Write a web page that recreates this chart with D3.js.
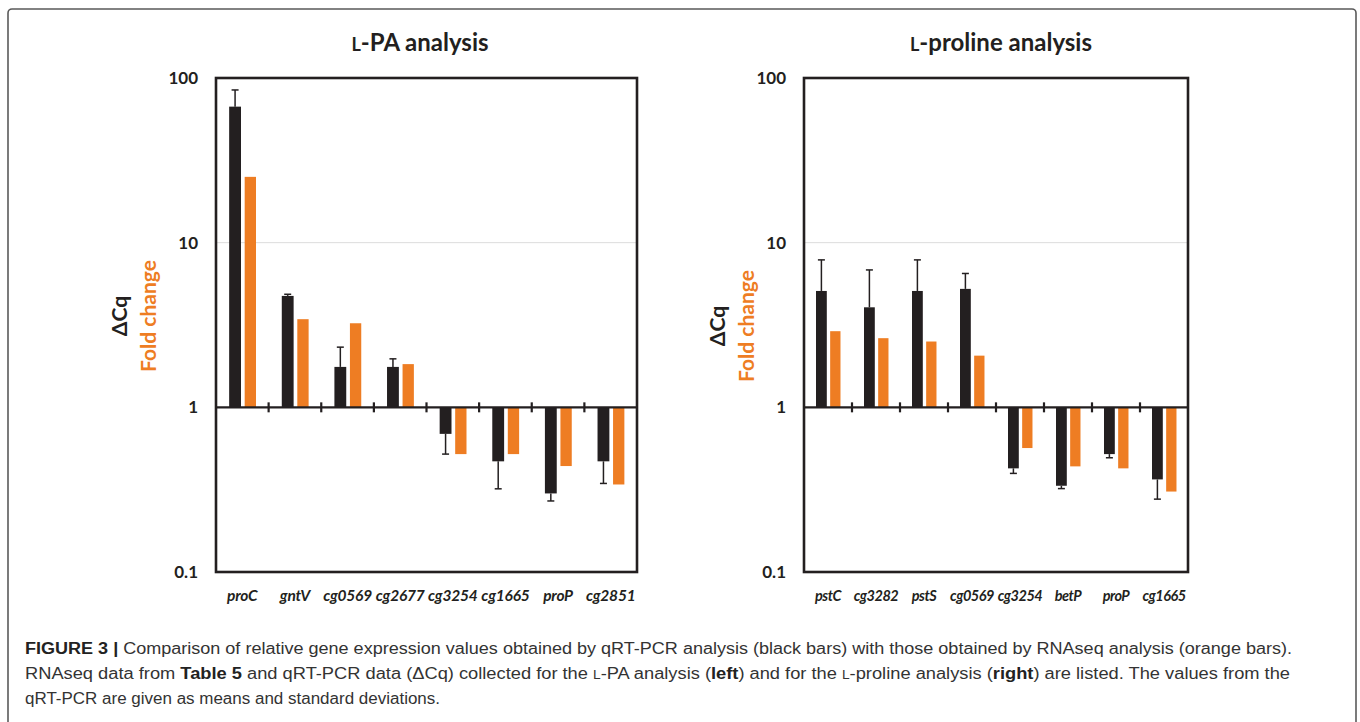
<!DOCTYPE html>
<meta charset="utf-8">
<style>
  body { margin: 0; background: #fff; }
  .tick-lbl { font-family: Lato, "Open Sans", sans-serif; font-weight: bold; font-size: 17px; fill: #231f20; }
  .cat-lbl { font-family: Lato, "Open Sans", sans-serif; font-weight: bold; font-style: italic; fill: #231f20; }
  .ttl { font-family: Lato, "Open Sans", sans-serif; font-weight: bold; font-size: 24px; fill: #231f20; }
  .ylab { font-family: Lato, "Open Sans", sans-serif; font-weight: bold; font-size: 21px; }
  .cap { font-family: "Liberation Sans", Arial, sans-serif; font-size: 16px; fill: #333; }
</style>
<body>
<script src="https://cdnjs.cloudflare.com/ajax/libs/d3/7.8.5/d3.min.js"></script>
<script>

// L-PA analysis (left)
var lpaGenes = ["proC", "gntV", "cg0569", "cg2677", "cg3254", "cg1665", "proP", "cg2851"];
var lpaDcq = [67, 4.75, 1.76, 1.76, 0.69, 0.47, 0.30, 0.47];
var lpaDcqSd = [84.6, 4.86, 2.32, 1.97, 0.52, 0.32, 0.27, 0.345];   // end of whisker
var lpaFold = [25.1, 3.43, 3.24, 1.83, 0.52, 0.52, 0.44, 0.34];

// L-proline analysis (right)
var proGenes = ["pstC", "cg3282", "pstS", "cg0569", "cg3254", "betP", "proP", "cg1665"];
var proDcq = [5.09, 4.05, 5.09, 5.24, 0.426, 0.334, 0.52, 0.365];
var proDcqSd = [7.86, 6.83, 7.86, 6.5, 0.397, 0.321, 0.494, 0.277];
var proFold = [2.90, 2.63, 2.51, 2.06, 0.566, 0.438, 0.426, 0.308];

var yTicks = [0.1, 1, 10, 100];
var tickText = ["0.1", "1", "10", "100"];

var black = "#231f20", orange = "#ee7d23";

var svg = d3.select("body").append("svg")
  .attr("width", 1360)
  .attr("height", 722);

// outer figure border
svg.append("rect")
  .attr("x", 8).attr("y", 9)
  .attr("width", 1348).attr("height", 730)
  .attr("rx", 4)
  .attr("fill", "none")
  .attr("stroke", "#5a5a5a")
  .attr("stroke-width", 1.6);

var y = d3.scaleLog().domain([0.1, 100]).range([572, 78]);

function drawPanel(p) {
  var g = svg.append("g");
  var x = d3.scaleBand().domain(p.genes).range([p.left, p.right]);
  var bw = x.bandwidth();
  var cx = function(d) { return x(d) + bw / 2; };

  // gridline at 10
  g.append("line")
    .attr("x1", p.left).attr("x2", p.right)
    .attr("y1", y(10)).attr("y2", y(10))
    .attr("stroke", "#dcdcdc").attr("stroke-width", 1);

  // black bars (dCq)
  g.selectAll("rect.dcq")
    .data(p.genes)
    .enter().append("rect")
    .attr("class", "dcq")
    .attr("x", function(d) { return cx(d) - 0.25 * bw; })
    .attr("width", 0.225 * bw)
    .attr("y", function(d, i) { return Math.min(y(p.dcq[i]), y(1)); })
    .attr("height", function(d, i) { return Math.abs(y(p.dcq[i]) - y(1)); })
    .attr("fill", black);

  // orange bars (fold change)
  g.selectAll("rect.fold")
    .data(p.genes)
    .enter().append("rect")
    .attr("class", "fold")
    .attr("x", function(d) { return cx(d) + 0.045 * bw; })
    .attr("width", 0.215 * bw)
    .attr("y", function(d, i) { return Math.min(y(p.fold[i]), y(1)); })
    .attr("height", function(d, i) { return Math.abs(y(p.fold[i]) - y(1)); })
    .attr("fill", orange);

  // error bars
  var eb = g.selectAll("g.err")
    .data(p.genes)
    .enter().append("g")
    .attr("class", "err")
    .attr("stroke", black)
    .attr("stroke-width", 1.5);
  eb.append("line")
    .attr("x1", function(d) { return cx(d) - 0.1375 * bw; })
    .attr("x2", function(d) { return cx(d) - 0.1375 * bw; })
    .attr("y1", function(d, i) { return y(p.dcq[i]); })
    .attr("y2", function(d, i) { return y(p.sd[i]); });
  eb.append("line")
    .attr("x1", function(d) { return cx(d) - 0.1375 * bw - 3.5; })
    .attr("x2", function(d) { return cx(d) - 0.1375 * bw + 3.5; })
    .attr("y1", function(d, i) { return y(p.sd[i]); })
    .attr("y2", function(d, i) { return y(p.sd[i]); });

  // baseline at 1 and separating ticks
  g.append("line")
    .attr("x1", p.left).attr("x2", p.right)
    .attr("y1", y(1)).attr("y2", y(1))
    .attr("stroke", black).attr("stroke-width", 2.2);
  g.selectAll("line.sep")
    .data(p.genes.slice(1))
    .enter().append("line")
    .attr("class", "sep")
    .attr("x1", function(d) { return x(d); })
    .attr("x2", function(d) { return x(d); })
    .attr("y1", y(1) - 5).attr("y2", y(1) + 5)
    .attr("stroke", black).attr("stroke-width", 2.2);

  // plot frame
  g.append("rect")
    .attr("x", p.left).attr("y", y(100))
    .attr("width", p.right - p.left).attr("height", y(0.1) - y(100))
    .attr("fill", "none")
    .attr("stroke", black).attr("stroke-width", 2.6);

  // y tick labels
  g.selectAll("text.tick-lbl")
    .data(yTicks)
    .enter().append("text")
    .attr("class", "tick-lbl")
    .attr("x", p.left - 18)
    .attr("y", function(d) { return y(d) + 6; })
    .attr("text-anchor", "end")
    .text(function(d, i) { return tickText[i]; });

  // category labels
  g.selectAll("text.cat-lbl")
    .data(p.genes)
    .enter().append("text")
    .attr("class", "cat-lbl")
    .attr("font-size", p.catSize)
    .attr("letter-spacing", p.catSpacing)
    .attr("x", cx)
    .attr("y", 601)
    .attr("text-anchor", "middle")
    .text(function(d) { return d; });

  // title with small-caps L
  var t = g.append("text")
    .attr("class", "ttl")
    .attr("x", p.titleX).attr("y", 51)
    .attr("text-anchor", "middle");
  t.append("tspan").attr("font-size", "18px").text("L");
  t.append("tspan").text(p.title);

  // y axis labels
  g.append("text")
    .attr("class", "ylab")
    .attr("transform", "translate(" + p.dcqX + "," + p.labY + ") rotate(-90)")
    .attr("text-anchor", "middle")
    .attr("fill", black)
    .text("ΔCq");
  g.append("text")
    .attr("class", "ylab")
    .attr("transform", "translate(" + p.foldX + "," + p.labY + ") rotate(-90)")
    .attr("text-anchor", "middle")
    .attr("fill", orange)
    .text("Fold change");
}

drawPanel({ genes: lpaGenes, dcq: lpaDcq, sd: lpaDcqSd, fold: lpaFold,
  left: 216, right: 637, title: "-PA analysis", titleX: 420,
  catSize: "15.5px", catSpacing: "-0.2px",
  dcqX: 127, foldX: 156, labY: 316 });
drawPanel({ genes: proGenes, dcq: proDcq, sd: proDcqSd, fold: proFold,
  left: 804, right: 1188, title: "-proline analysis", titleX: 1001,
  catSize: "14.5px", catSpacing: "-0.5px",
  dcqX: 725, foldX: 754, labY: 326 });

// caption
var capLines = [
  [["FIGURE 3 | ", true], ["Comparison of relative gene expression values obtained by qRT-PCR analysis (black bars) with those obtained by RNAseq analysis (orange bars).", false]],
  [["RNAseq data from ", false], ["Table 5", true], [" and qRT-PCR data (\u0394Cq) collected for the ", false], ["L", false, true], ["-PA analysis (", false], ["left", true], [") and for the ", false], ["L", false, true], ["-proline analysis (", false], ["right", true], [") are listed. The values from the", false]],
  [["qRT-PCR are given as means and standard deviations.", false]]
];
var capWidths = [1267, 1265, 415];

capLines.forEach(function(line, i) {
  var t = svg.append("text")
    .attr("class", "cap")
    .attr("x", 25)
    .attr("y", 654 + i * 25)
    .attr("textLength", capWidths[i])
    .attr("lengthAdjust", "spacingAndGlyphs");
  line.forEach(function(seg) {
    var s = t.append("tspan").text(seg[0]);
    if (seg[1]) s.attr("font-weight", "bold").attr("fill", "#222");
    if (seg[2]) s.attr("font-size", "12px");
  });
});
</script>
</body>
